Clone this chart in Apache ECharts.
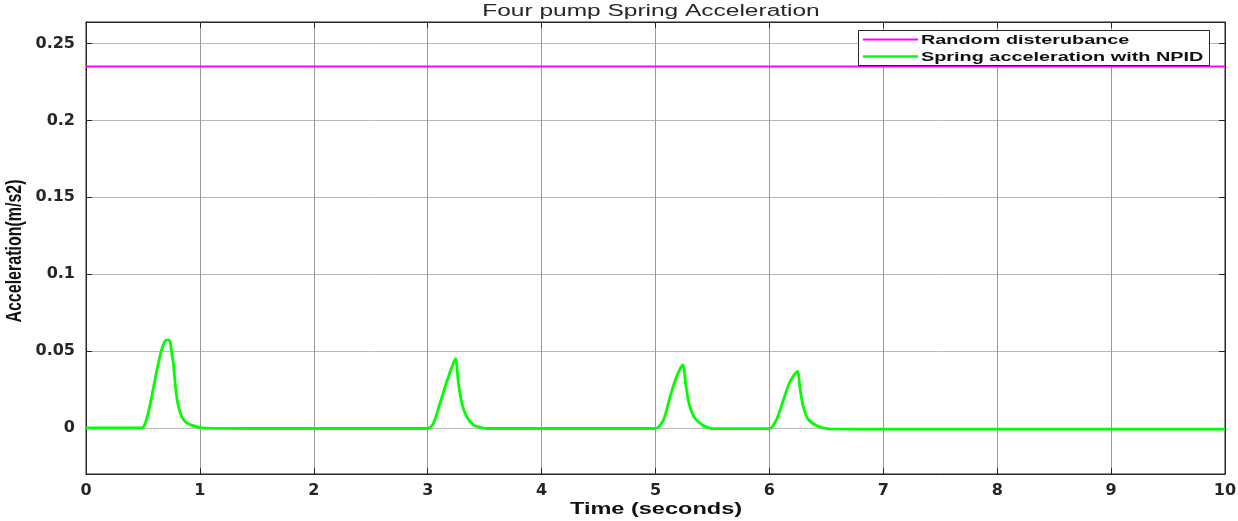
<!DOCTYPE html>
<html>
<head>
<meta charset="utf-8">
<script src="https://cdn.jsdelivr.net/npm/echarts@6/dist/echarts.min.js"></script>
<style>
html,body{margin:0;padding:0;background:#fff;}
#chart{width:1238px;height:521px;}
</style>
</head>
<body>
<div id="chart"></div>
<script>
// Time samples (seconds) and spring acceleration with NPID (m/s^2)
const timeValues = [
  0, 0.49, 0.52, 0.55, 0.577, 0.61, 0.635, 0.665, 0.694, 0.715, 0.737, 0.75, 0.767, 0.78, 0.796, 0.815, 0.84, 0.87, 0.913, 0.985, 1.05, 1.5, 2.0, 2.5,
  3.0, 3.05, 3.108, 3.167, 3.225, 3.245, 3.27, 3.30, 3.342, 3.40, 3.46, 3.52, 4.0, 4.5,
  5.0, 5.069, 5.127, 5.186, 5.24, 5.268, 5.297, 5.347, 5.42, 5.5,
  6.0, 6.06, 6.122, 6.18, 6.245, 6.27, 6.297, 6.34, 6.415, 6.53, 7.0, 8.0, 9.0, 10.0
];
const springAccel = [
  0, 0, 0.003, 0.011, 0.0204, 0.033, 0.042, 0.051, 0.0565, 0.0572, 0.0565, 0.05, 0.042, 0.031, 0.0204, 0.013, 0.0074, 0.0042, 0.0022, 0.0005, -0.0002, -0.0004, -0.0004, -0.0004,
  -0.0004, 0.003, 0.016, 0.030, 0.042, 0.0448, 0.029, 0.016, 0.0074, 0.002, 0.0004, -0.0004, -0.0004, -0.0004,
  -0.0004, 0.005, 0.020, 0.0335, 0.041, 0.027, 0.015, 0.0063, 0.0015, -0.0005,
  -0.0005, 0.005, 0.018, 0.030, 0.0367, 0.0248, 0.0139, 0.0057, 0.0015, -0.0007, -0.0008, -0.0008, -0.0008, -0.0008
];
const disturbanceLevel = 0.235;
const disturbanceTimes = [0, 10];
const yTickValues = [0, 0.05, 0.1, 0.15, 0.2, 0.25];
const seriesNames = ['Random disterubance', 'Spring acceleration with NPID'];
const seriesColors = ['#ff00ff', '#00ff00'];
const titleText = 'Four pump Spring Acceleration';
const xAxisTitle = 'Time (seconds)';
const yAxisTitle = 'Acceleration(m/s2)';

const chart = echarts.init(document.getElementById('chart'));
const font = '"Liberation Sans", Arial, sans-serif';
const tickFont = '"DejaVu Sans", "Liberation Sans", sans-serif';
const STRETCH = 1.5;

const frameAxis = (pos, isX) => ({
  type: 'value', position: pos,
  min: isX ? 0 : -0.03, max: isX ? 10 : 0.264, interval: isX ? 1 : undefined,
  axisLine: { show: true, onZero: false, lineStyle: { color: '#262626' } },
  axisTick: isX ? { show: true, inside: true, length: 6, lineStyle: { color: '#262626' } }
               : { show: true, inside: true, length: 6, customValues: yTickValues, lineStyle: { color: '#262626' } },
  axisLabel: { show: false },
  splitLine: { show: false }
});

chart.setOption({
  animation: false,
  backgroundColor: '#fff',
  grid: { left: 86, right: 13, top: 22, bottom: 47, containLabel: false, outerBoundsMode: 'none',
          show: true, borderColor: '#262626', borderWidth: 1, backgroundColor: '#fff' },
  xAxis: [{
    type: 'value', min: 0, max: 10, interval: 1, position: 'bottom',
    axisLine: { show: true, onZero: false, lineStyle: { color: '#262626' } },
    axisTick: { show: true, inside: true, length: 6, lineStyle: { color: '#262626' } },
    axisLabel: { fontFamily: tickFont, fontSize: 16, fontWeight: 'bold', color: '#262626', margin: 9 },
    splitLine: { show: true, lineStyle: { color: '#9a9a9a', width: 1 } }
  }, frameAxis('top', true)],
  yAxis: [{
    type: 'value', min: -0.03, max: 0.264, position: 'left',
    axisLine: { show: true, onZero: false, lineStyle: { color: '#262626' } },
    axisTick: { show: true, inside: true, length: 6, customValues: yTickValues, lineStyle: { color: '#262626' } },
    axisLabel: { fontFamily: tickFont, fontSize: 16, fontWeight: 'bold', color: '#262626', margin: 11, customValues: yTickValues },
    splitLine: { show: true, lineStyle: { color: '#b8b8b8', width: 1 } }
  }, frameAxis('right', false)],
  series: [
    {
      name: seriesNames[0], type: 'line', showSymbol: false, symbol: 'none', z: 3,
      color: seriesColors[0], lineStyle: { width: 2, color: seriesColors[0] },
      data: disturbanceTimes.map(t => [t, disturbanceLevel])
    },
    {
      name: seriesNames[1], type: 'line', showSymbol: false, symbol: 'none', smooth: 0.25, z: 3,
      color: seriesColors[1], lineStyle: { width: 2.8, color: seriesColors[1] },
      data: timeValues.map((t, i) => [t, springAccel[i]])
    }
  ],
  graphic: [
    { type: 'text', x: 651, y: 12, scaleX: 1.53, z: 100,
      style: { text: titleText, font: '16px ' + font, fill: '#262626', align: 'center', verticalAlign: 'middle' } },
    { type: 'text', x: 656, y: 510, scaleX: STRETCH * 0.98, z: 100,
      style: { text: xAxisTitle, font: 'bold 16px ' + font, fill: '#111', align: 'center', verticalAlign: 'middle' } },
    { type: 'text', x: 15, y: 251, rotation: Math.PI / 2, scaleY: STRETCH * 0.95, z: 100,
      style: { text: yAxisTitle, font: 'bold 16px ' + font, fill: '#111', align: 'center', verticalAlign: 'middle' } },
    // legend box
    { type: 'rect', z: 100, shape: { x: 858.5, y: 30.5, width: 351, height: 35 },
      style: { fill: '#fff', stroke: '#262626', lineWidth: 1 } },
    { type: 'line', z: 101, shape: { x1: 863, y1: 39.5, x2: 918, y2: 39.5 }, style: { stroke: seriesColors[0], lineWidth: 2 } },
    { type: 'line', z: 101, shape: { x1: 863, y1: 56.5, x2: 918, y2: 56.5 }, style: { stroke: seriesColors[1], lineWidth: 2.5 } },
    { type: 'text', x: 921, y: 40, scaleX: 1.47, z: 101,
      style: { text: seriesNames[0], font: 'bold 13.5px ' + font, fill: '#111', align: 'left', verticalAlign: 'middle' } },
    { type: 'text', x: 921, y: 57, scaleX: 1.47, z: 101,
      style: { text: seriesNames[1], font: 'bold 13.5px ' + font, fill: '#111', align: 'left', verticalAlign: 'middle' } }
  ]
});
</script>
</body>
</html>
